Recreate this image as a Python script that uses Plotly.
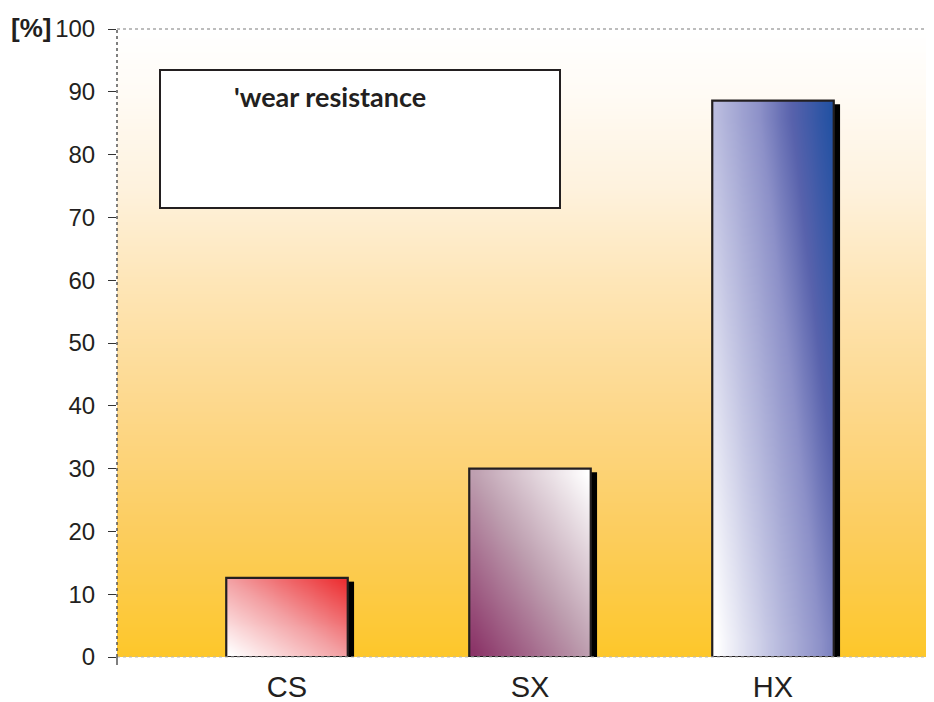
import numpy as np
import plotly.graph_objects as go

# ---- data ----
categories = ["CS", "SX", "HX"]
values = [12.6, 30.0, 88.6]
y_ticks = [0, 10, 20, 30, 40, 50, 60, 70, 80, 90, 100]
legend_label = "'wear resistance"
y_unit = "[%]"

# ---- styling ----
bar_width = 0.5
ink = "#231F20"
bar_scales = [
    # (colorscale, weight along x, weight along y)
    ([[0, "#FFFFFF"], [0.5, "#F3A0A3"], [1, "#EC3033"]], 0.5, 0.5),
    ([[0, "#8B3468"], [0.5, "#BE9FB0"], [1, "#FFFFFF"]], 0.5, 0.5),
    ([[0, "#FFFFFF"], [0.3, "#C3C5E3"], [0.6, "#8C90C8"], [0.78, "#5862AC"], [1, "#2452A3"]], 0.65, 0.35),
]
bg_scale = [[0, "#FDC72A"], [0.2, "#FCCD5E"], [0.4, "#FDD88C"], [0.6, "#FEE6B8"],
            [0.75, "#FEF2DE"], [0.9, "#FFFBF5"], [1, "#FFFFFF"]]

xpos = np.arange(len(categories), dtype=float)
x_lo, x_hi = -0.6996, 2.6626

fig = go.Figure()

# background gradient
bg_y = np.linspace(0, 100, 41)
fig.add_trace(go.Heatmap(
    x=[x_lo - 0.2, x_hi + 0.2], y=bg_y, z=[[v, v] for v in bg_y],
    colorscale=bg_scale, zmin=0, zmax=100, zsmooth="best",
    showscale=False, hoverinfo="skip"))

# gradient-filled bars
n = 16
for i, (xc, v) in enumerate(zip(xpos, values)):
    cs, wx, wy = bar_scales[i]
    xe = np.linspace(xc - bar_width / 2, xc + bar_width / 2, n + 1)
    ye = np.linspace(0, v, n + 1)
    f = np.linspace(0, 1, n)
    z = [[wx * fx + wy * fy for fx in f] for fy in f]
    fig.add_trace(go.Heatmap(x=xe, y=ye, z=z, colorscale=cs, zmin=0, zmax=1,
                             zsmooth="best", showscale=False, hoverinfo="skip"))

# shadows (thin strip right of each bar)
sh_w = 0.026
fig.add_trace(go.Bar(
    x=xpos + bar_width / 2 + sh_w / 2, y=[v - 0.6 for v in values], width=sh_w,
    marker=dict(color="black", line=dict(width=0)), hoverinfo="skip"))

# bar outlines
fig.add_trace(go.Bar(
    x=xpos, y=values, width=bar_width,
    marker=dict(color="rgba(0,0,0,0)", line=dict(color=ink, width=2.2)),
    hoverinfo="skip"))

# the page body has an 8px margin, so the figure is sized to fit the window
OFF = 8
W, H = 934 - OFF, 702 - OFF
L, T = 117 - OFF, 29 - OFF
B = H - (657 - OFF)
pw, ph = W - L, H - T - B

def px(xp):  # page pixel -> paper
    return (xp - OFF - L) / pw

def py(yp):
    return (H - B - (yp - OFF)) / ph

shapes = [
    # legend box
    dict(type="rect", xref="paper", yref="paper", x0=px(160), x1=px(560), y0=py(208), y1=py(70),
         line=dict(color=ink, width=2), fillcolor="white", layer="above"),
    # dotted frame lines
    dict(type="line", xref="paper", yref="paper", x0=0, x1=1, y0=1, y1=1,
         line=dict(color="#A8A8A8", width=1.5, dash="dot"), layer="above"),
    dict(type="line", xref="paper", yref="paper", x0=0, x1=1, y0=0, y1=0,
         line=dict(color="#B8B8B8", width=1.2, dash="dot"), layer="above"),
    dict(type="line", xref="paper", yref="paper", x0=0, x1=0, y0=0, y1=1,
         line=dict(color="#555555", width=1.5, dash="dot"), layer="above"),
    dict(type="line", xref="paper", yref="paper", x0=0, x1=0, y0=py(665), y1=0,
         line=dict(color="#555555", width=1.5), layer="above"),
]

annotations = [
    dict(text=legend_label, xref="paper", yref="paper", x=px(232), y=py(97),
         xanchor="left", yanchor="middle", showarrow=False,
         font=dict(family="Lato", size=27, color=ink, weight="bold")),
    dict(text=y_unit, xref="paper", yref="paper", x=px(9), y=py(28),
         xanchor="left", yanchor="middle", showarrow=False,
         font=dict(family="Liberation Sans", size=26, color=ink, weight="bold")),
]

fig.update_layout(
    width=W, height=H, margin=dict(l=L, r=0, t=T, b=B, autoexpand=False),
    paper_bgcolor="white", plot_bgcolor="white",
    barmode="overlay", showlegend=False,
    shapes=shapes, annotations=annotations,
    xaxis=dict(range=[x_lo, x_hi], tickmode="array", tickvals=xpos, ticktext=categories,
               showgrid=False, zeroline=False, showline=False, ticks="",
               automargin=False,
               tickfont=dict(family="Liberation Sans", size=29, color=ink),
               ticklabelstandoff=10),
    yaxis=dict(range=[0, 100], tickmode="array", tickvals=y_ticks,
               showgrid=False, zeroline=False, showline=False, automargin=False,
               ticks="outside", ticklen=8, tickwidth=1.3, tickcolor="#333333",
               tickfont=dict(family="Liberation Sans", size=24, color=ink),
               ticklabelstandoff=8),
)

fig.write_html("out.html")
